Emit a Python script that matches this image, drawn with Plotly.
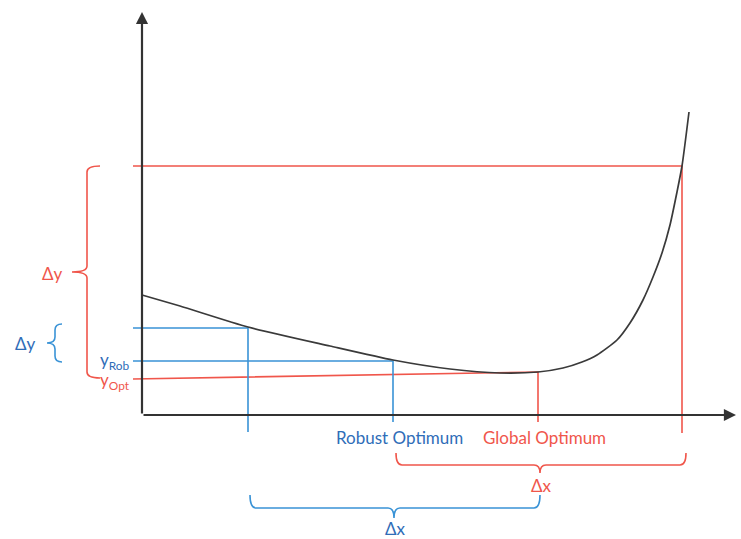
import plotly.graph_objects as go

# ---- data (diagram units: x right from origin, y up from origin) ----
curve_x = [0, 38, 106, 188, 251, 308, 358, 396, 421, 440, 455, 475, 488, 501, 511, 520, 528, 535, 540, 547]
curve_y = [120, 109, 88, 69, 55, 46, 42, 43, 47, 53, 60, 75, 92, 115, 138, 162, 190, 223, 249, 303]

x_left_rob = 106      # left robust perturbation
x_robust = 251        # robust optimum
x_global = 396        # global optimum
x_right_glob = 540    # right global perturbation
y_left_rob = 87
y_rob = 54
y_opt_start, y_opt_end = 36, 43
y_top = 249
x_line_start = -9
y_line_bottom = -17
y_line_bottom_deep = -18

x_axis_end = 594
y_axis_end = 403

labels = ["Robust Optimum", "Global Optimum"]

RED = "#F0564B"
BLUE_LINE = "#3A93D6"
BLUE_TEXT = "#2F6DB8"
BLACK = "#333333"
FONT = "Lato"

fig = go.Figure()

def line(xs, ys, color, width=1.6):
    fig.add_trace(go.Scatter(x=xs, y=ys, mode="lines", line=dict(color=color, width=width),
                             hoverinfo="skip", showlegend=False))

# red guide lines
line([x_line_start, x_right_glob, x_right_glob], [y_top, y_top, y_line_bottom_deep], RED)
line([x_line_start, x_global, x_global], [y_opt_start, y_opt_end, y_line_bottom + 10], RED)
# blue guide lines
line([x_line_start, x_left_rob, x_left_rob], [y_left_rob, y_left_rob, y_line_bottom], BLUE_LINE)
line([x_line_start, x_robust, x_robust], [y_rob, y_rob, y_line_bottom + 10], BLUE_LINE)

# black curve
fig.add_trace(go.Scatter(x=curve_x, y=curve_y, mode="lines",
                         line=dict(color="#3a3a3a", width=1.7, shape="spline", smoothing=0.6),
                         hoverinfo="skip", showlegend=False))

# axes with arrows
for (x0, y0, x1, y1) in [(0, 0, x_axis_end, 0), (0, 0, 0, y_axis_end)]:
    fig.add_annotation(x=x1, y=y1, ax=x0, ay=y0, xref="x", yref="y", axref="x", ayref="y",
                       showarrow=True, arrowhead=2, arrowsize=1.1, arrowwidth=2.2,
                       arrowcolor=BLACK, text="")

# braces
def vbrace(xbar, xend, y0, y1, xtip, color):
    ym = (y0 + y1) / 2
    r = 6
    p = (f"M {xend},{y1} Q {xbar},{y1} {xbar},{y1 - r} L {xbar},{ym + r} "
         f"Q {xbar},{ym} {xtip},{ym} Q {xbar},{ym} {xbar},{ym - r} "
         f"L {xbar},{y0 + r} Q {xbar},{y0} {xend},{y0}")
    fig.add_shape(type="path", path=p, xref="x", yref="y", line=dict(color=color, width=1.6))

def hbrace(ybar, yend, x0, x1, ytip, color, xm=None):
    if xm is None:
        xm = (x0 + x1) / 2
    r = 6
    p = (f"M {x0},{yend} Q {x0},{ybar} {x0 + r},{ybar} L {xm - r},{ybar} "
         f"Q {xm},{ybar} {xm},{ytip} Q {xm},{ybar} {xm + r},{ybar} "
         f"L {x1 - r},{ybar} Q {x1},{ybar} {x1},{yend}")
    fig.add_shape(type="path", path=p, xref="x", yref="y", line=dict(color=color, width=1.6))

vbrace(-55, -42, y_opt_start + 1, y_top, -70, RED)
vbrace(-87, -80, y_rob - 1, y_left_rob + 4, -95, BLUE_LINE)
hbrace(-50, -38, x_robust + 3, x_right_glob + 4, -58, RED, xm=x_global + 2)
hbrace(-93, -80, x_left_rob + 2, x_global + 2, -103, BLUE_LINE, xm=x_robust + 1)

def text(x, y, s, color, anchor="center", size=17):
    fig.add_annotation(x=x, y=y, xref="x", yref="y", text=s, showarrow=False,
                       xanchor=anchor, yanchor="middle",
                       font=dict(family=FONT, size=size, color=color))

text(-90, 142, "Δy", RED)
text(-117, 72, "Δy", BLUE_TEXT)
text(-10, y_rob, "y<sub>Rob</sub>", BLUE_TEXT, anchor="right")
text(-10, y_opt_start - 2, "y<sub>Opt</sub>", RED, anchor="right")
text(x_robust + 6, -22, labels[0], BLUE_TEXT)
text(x_global + 6, -22, labels[1], RED)
text(x_global + 3, -70, "Δx", RED)
text(x_robust + 2, -113, "Δx", BLUE_TEXT)

fig.update_xaxes(range=[-142, 599], visible=False, showgrid=False, zeroline=False)
fig.update_yaxes(range=[-124, 415], visible=False, showgrid=False, zeroline=False)
fig.update_layout(width=741, height=539, autosize=False,
                  margin=dict(l=0, r=0, t=0, b=0),
                  plot_bgcolor="white", paper_bgcolor="white")

fig.write_html("out.html", config={"displayModeBar": False},
               post_script="document.body.style.margin='0';document.body.style.overflow='hidden';")
